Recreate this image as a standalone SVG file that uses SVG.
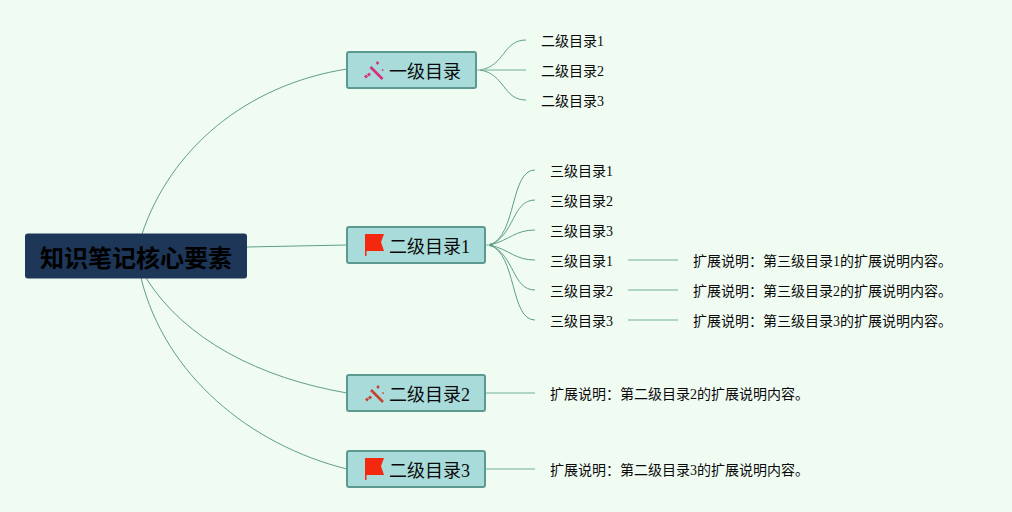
<svg xmlns="http://www.w3.org/2000/svg" width="1012" height="512" viewBox="0 0 1012 512">
<style>
text{font-family:"Liberation Serif","Noto Sans CJK SC",serif;fill:#000}
.root{font-family:"Liberation Sans","Noto Sans CJK SC",sans-serif;font-size:24px;font-weight:700;fill:#000}
.t1{font-size:18px;fill:#0a0a0a}
.t2{font-size:14px;fill:#0a0a0a}
.box{fill:#a9dbdb;stroke:#5c9a8f;stroke-width:2}
.c{fill:none;stroke:#5f9f8a;stroke-width:1}
.s{fill:none;stroke:#9cc9b5;stroke-width:1.4}
.flag{fill:#f3280e}
</style>
<rect width="1012" height="512" fill="#f0fbf2"/>
<g id="connectors">
<path class="c" d="M142 234C170 150 245 85 347 69"/>
<path class="c" d="M246 247L347 245"/>
<path class="c" d="M146 278C185 340 260 378 347 393"/>
<path class="c" d="M141 278C165 375 250 445 347 469"/>
<path class="s" d="M477 70H482"/>
<path class="c" d="M480 70C505 66 503 40 526 40"/>
<path class="s" d="M480 70H526"/>
<path class="c" d="M480 70C505 74 503 100 526 100"/>
<path class="s" d="M486 245H491"/>
<circle cx="491" cy="245" r="1.800" fill="#5f9f8a"/>
<path class="c" d="M490 245C517 235 510 170 535 170"/>
<path class="c" d="M490 245C515 235 512 200 535 200"/>
<path class="c" d="M490 245C510 240 515 230 535 230"/>
<path class="c" d="M490 245C510 250 515 260 535 260"/>
<path class="c" d="M490 245C515 255 512 290 535 290"/>
<path class="c" d="M490 245C517 255 510 320 535 320"/>
<path class="s" d="M628 260H678M628 290H678M628 320H678"/>
<path class="s" d="M486 393H535M486 469H535"/>
</g>
<g id="root"><rect x="25" y="233.500" width="222" height="45" rx="3" fill="#1e3658"/><text class="root" x="136" y="266.500" text-anchor="middle">知识笔记核心要素</text></g>
<g id="n1"><rect class="box" x="347" y="52" width="129" height="36" rx="2"/>
<path d="M370.500 67L382.500 79" stroke="#d6307a" stroke-width="2.600" fill="none"/>
<path d="M369 72.500l2 2-2 2-2-2zM366 74.500l2 2-2 2-2-2zM377.500 61l1.800 2-1.800 2-1.800-2zM382.700 69l1.100 1.100-1.100 1.100-1.100-1.100z" fill="#d6307a"/>
<text class="t1" x="389" y="78">一级目录</text></g>
<g id="n2"><rect class="box" x="347" y="227" width="138" height="36" rx="2"/>
<path class="flag" d="M365 256V234H384L381 242L384 251H366.500V256Z"/>
<text class="t1" x="389" y="253">二级目录1</text></g>
<g id="n3"><rect class="box" x="347" y="375" width="138" height="36" rx="2"/>
<path d="M371 390L383 402" stroke="#c2452f" stroke-width="2.600" fill="none"/>
<path d="M370 395.500l2 2-2 2-2-2zM367 397.500l2 2-2 2-2-2zM378 385l1.800 2-1.800 2-1.800-2zM383 392l1.100 1.100-1.100 1.100-1.100-1.100z" fill="#c2452f"/>
<text class="t1" x="389" y="401">二级目录2</text></g>
<g id="n4"><rect class="box" x="347" y="451" width="138" height="36" rx="2"/>
<path class="flag" d="M365 480V458H384L381 466L384 475H366.500V480Z"/>
<text class="t1" x="389" y="477">二级目录3</text></g>
<g id="a1"><text class="t2" x="541" y="46">二级目录1</text></g>
<g id="a2"><text class="t2" x="541" y="76">二级目录2</text></g>
<g id="a3"><text class="t2" x="541" y="106">二级目录3</text></g>
<g id="b1"><text class="t2" x="550" y="176">三级目录1</text></g>
<g id="b2"><text class="t2" x="550" y="206">三级目录2</text></g>
<g id="b3"><text class="t2" x="550" y="236">三级目录3</text></g>
<g id="b4"><text class="t2" x="550" y="266">三级目录1</text></g>
<g id="b5"><text class="t2" x="550" y="296">三级目录2</text></g>
<g id="b6"><text class="t2" x="550" y="326">三级目录3</text></g>
<g id="e1"><text class="t2" x="693" y="266">扩展说明：第三级目录1的扩展说明内容。</text></g>
<g id="e2"><text class="t2" x="693" y="296">扩展说明：第三级目录2的扩展说明内容。</text></g>
<g id="e3"><text class="t2" x="693" y="326">扩展说明：第三级目录3的扩展说明内容。</text></g>
<g id="e4"><text class="t2" x="550" y="399">扩展说明：第二级目录2的扩展说明内容。</text></g>
<g id="e5"><text class="t2" x="550" y="475">扩展说明：第二级目录3的扩展说明内容。</text></g>
</svg>
